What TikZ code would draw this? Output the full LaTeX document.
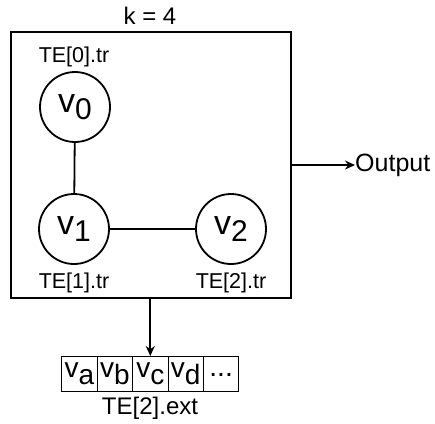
\documentclass[tikz,border=0pt]{standalone}
\usepackage{fontspec}
\setmainfont{Liberation Sans}
\usetikzlibrary{arrows.meta,positioning}
\newcommand{\vname}[3]{v\raisebox{-#2}{\fontsize{#3}{#3}\selectfont #1}}

\begin{document}
\begin{tikzpicture}[
    x=1pt,y=-1pt,
    tree/.style   = {draw, line width=2.4pt, minimum width=280pt,
                     minimum height=266pt, inner sep=0pt},
    vert/.style   = {circle, draw, line width=1.8pt, minimum size=70pt,
                     inner sep=0pt, font=\fontsize{34}{34}\selectfont},
    lbl/.style    = {font=\fontsize{21.5}{21.5}\selectfont, inner sep=0pt},
    cell/.style   = {draw, line width=0.9pt, minimum width=35.4pt,
                     minimum height=35pt, inner sep=0pt, outer sep=0pt,
                     font=\fontsize{28}{28}\selectfont},
    edge/.style   = {line width=1.8pt},
    flow/.style   = {-{Stealth[length=10pt,width=9pt]}, line width=1.8pt},
  ]
  \useasboundingbox (0,0) rectangle (435,423);

  % Cadre de l'arbre
  \node[tree] (frame) at (151,165) {};
  \node[font=\fontsize{24}{24}\selectfont, inner sep=0pt] (k) at (150,16) {k = 4};

  % Sommets
  \node[vert] (v0) at (75,107)  {\vname{0}{7pt}{30}};
  \node[vert] (v1) at (74,229)  {\vname{1}{7pt}{30}};
  \node[vert] (v2) at (231,229) {\vname{2}{7pt}{30}};

  \node[lbl] (t0) at (74,57)  {TE[0].tr};
  \node[lbl] (t1) at (74,283) {TE[1].tr};
  \node[lbl] (t2) at (231,283) {TE[2].tr};

  \draw[edge] (v0) -- (v1);
  \draw[edge] (v1) -- (v2);

  % Sortie
  \node[font=\fontsize{25}{25}\selectfont, inner sep=0pt, anchor=west]
       (out) at (355,165) {Output};
  \draw[flow] (frame.east) -- (out.west);

  % Extension
  \node[cell] (ca) at (79.5,373.5) {\vname{a}{7pt}{28}};
  \node[cell, right=0pt of ca] (cb) {\vname{b}{7pt}{28}};
  \node[cell, right=0pt of cb] (cc) {\vname{c}{7pt}{28}};
  \node[cell, right=0pt of cc] (cd) {\vname{d}{7pt}{28}};
  \node[cell, right=0pt of cd] (ce) {\raisebox{-6pt}{...}};
  \node[font=\fontsize{24}{24}\selectfont, inner sep=0pt] (ext) at (150,408) {TE[2].ext};

  \draw[flow] (frame.south -| cc.north) -- (cc.north);

\end{tikzpicture}
\end{document}
